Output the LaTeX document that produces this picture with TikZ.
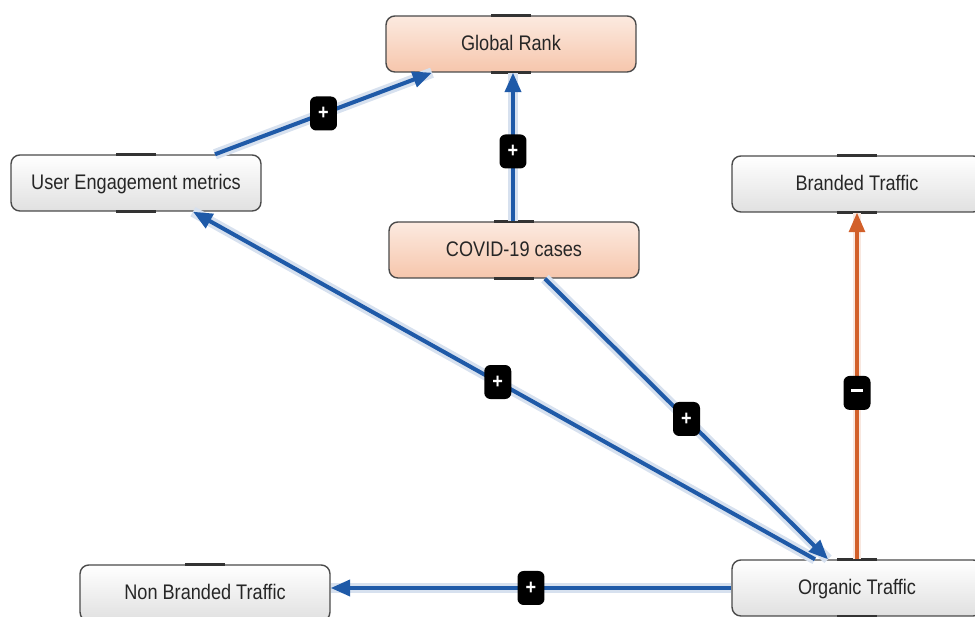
\documentclass[tikz,border=0pt]{standalone}
\usepackage{fontspec}
\setmainfont{Liberation Sans}[FakeStretch=0.86]
\usepackage{xcolor}
\usepackage{tikz}
\usetikzlibrary{shapes,arrows.meta,positioning,calc}

\definecolor{linkblue}{HTML}{1F5AA8}
\definecolor{linkorange}{HTML}{D2602A}
\definecolor{boxline}{HTML}{4A4A4A}
\definecolor{hottop}{HTML}{FCEAE0}
\definecolor{hotbottom}{HTML}{F6C6AC}

\begin{document}
\begin{tikzpicture}[
    x=0.02cm, y=-0.02cm,
    box/.style={rectangle, rounded corners=5pt, draw=boxline, line width=0.8pt,
        minimum width=5cm, minimum height=1.12cm, text=black!85,
        font=\fontsize{12}{14}\selectfont, text depth=0.2ex,
        top color=white, bottom color=gray!24},
    hot/.style={box, top color=hottop, bottom color=hotbottom},
    pos link/.style={draw=linkblue, line width=2.3pt, -{Triangle[length=11pt,width=9pt]},
        preaction={draw=linkblue!18, line width=6pt, -{}}},
    neg link/.style={draw=linkorange, line width=1.8pt, -{Triangle[length=11pt,width=9pt]},
        preaction={draw=linkorange!15, line width=5pt, -{}}},
    sign/.style={rectangle, fill=black, text=white, rounded corners=3.5pt,
        minimum width=0.54cm, minimum height=0.68cm, inner sep=0pt,
        font=\bfseries\large}
]
\useasboundingbox (0,0) rectangle (975,617);

% Factors
\node[hot] (rank) at (511,44) {Global Rank};
\node[box] (engage) at (136,183) {User Engagement metrics};
\node[hot] (covid) at (514,250) {COVID-19 cases};
\node[box] (branded) at (857,184) {Branded Traffic};
\node[box] (nonbranded) at (205,593) {Non Branded Traffic};
\node[box] (organic) at (857,588) {Organic Traffic};

% small handles on the box edges
\foreach \n in {rank,engage,covid,branded,nonbranded,organic} {
    \draw[line width=1.4pt, black!80] ([xshift=-0.4cm]\n.north) -- ([xshift=0.4cm]\n.north);
    \draw[line width=1.4pt, black!80] ([xshift=-0.4cm]\n.south) -- ([xshift=0.4cm]\n.south);
}

% Links
\draw[pos link] ([xshift=1.58cm]engage.north) -- node[sign] {+} ([xshift=-1.58cm]rank.south);
\draw[pos link] ([xshift=-0.02cm]covid.north) -- node[sign, pos=0.47] {+} ([xshift=-0.02cm]covid.north |- rank.south);
\draw[pos link] ([xshift=-0.84cm]organic.north) -- node[sign, pos=0.51] {+} ([xshift=1.14cm]engage.south);
\draw[pos link] ([xshift=0.62cm]covid.south) -- node[sign] {+} ([xshift=-0.58cm]organic.north);
\draw[neg link] (organic.north) -- node[sign, pos=0.48] {\rule[0.5ex]{0.55em}{1.6pt}} (branded.south);
\draw[pos link] (organic.west) -- node[sign] {+} (organic.west -| nonbranded.east);
\end{tikzpicture}
\end{document}
